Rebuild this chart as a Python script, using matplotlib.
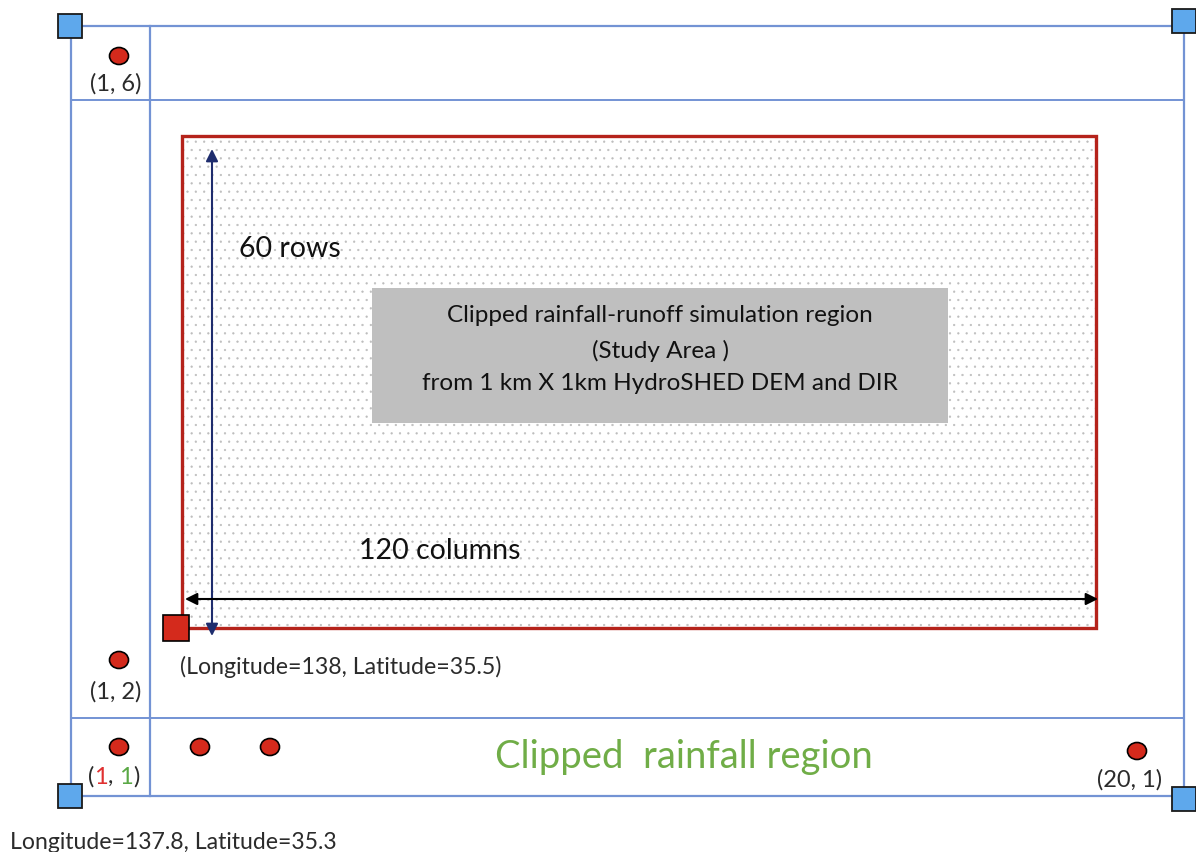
# -*- coding: utf-8 -*-
import matplotlib
matplotlib.use('Agg')
import matplotlib.pyplot as plt
from matplotlib.patches import Rectangle, Ellipse

plt.rcParams['font.family'] = ['Lato', 'DejaVu Sans']
plt.rcParams['hatch.linewidth'] = 0.4

# rejilla de la region de lluvia (coordenadas del esquema, en pixeles)
lineas_v = [71, 150, 1184]
lineas_h = [27, 101, 719, 797]
esquinas_x = [70, 1184, 70, 1184]
esquinas_y = [27, 22, 797, 800]

# puntos de celdas de lluvia
puntos_x = [119, 119, 119, 200, 270, 1137]
puntos_y = [57, 661, 748, 748, 748, 752]
etiquetas = ['(1, 6)', '(1, 2)', '(20, 1)']
etiquetas_x = [116, 116, 1130]
etiquetas_y = [84, 692, 780]

# area de estudio
area = [182, 137, 1096, 629]          # x0, y0, x1, y1
caja_gris = [372, 289, 948, 424]
texto_caja = ['Clipped rainfall-runoff simulation region',
              '(Study Area )',
              'from 1 km X 1km HydroSHED DEM and DIR']

AZUL = '#7393d4'
ROJO = '#d42a1c'

fig = plt.figure(figsize=(11.96, 8.53), dpi=100)
ax = fig.add_axes([0, 0, 1, 1])
ax.set_xlim(0, 1196)
ax.set_ylim(853, 0)
ax.axis('off')

# 1. lineas azules
ax.plot([lineas_v[0], lineas_v[-1]], [lineas_h[0], lineas_h[0]], color=AZUL, lw=1.6)
ax.plot([lineas_v[0], lineas_v[-1]], [lineas_h[-1], lineas_h[-1]], color=AZUL, lw=1.6)
for y in lineas_h[1:-1]:
    ax.plot([lineas_v[0], lineas_v[-1]], [y, y], color=AZUL, lw=1.4)
for x in lineas_v:
    ax.plot([x, x], [lineas_h[0], lineas_h[-1]], color=AZUL, lw=1.6)

# 2. area de estudio con puntitos
x0, y0, x1, y1 = area
ax.add_patch(Rectangle((x0, y0), x1 - x0, y1 - y0, facecolor='white',
                       edgecolor='#bdbdbd', lw=0, hatch='..', zorder=2))
ax.add_patch(Rectangle((x0, y0), x1 - x0, y1 - y0, facecolor='none',
                       edgecolor='#b5231b', lw=2.4, zorder=3))

gx0, gy0, gx1, gy1 = caja_gris
ax.add_patch(Rectangle((gx0, gy0), gx1 - gx0, gy1 - gy0, facecolor='#bfbfbf',
                       edgecolor='none', zorder=4))
for y, t in zip([315, 351, 383], texto_caja):
    ax.text((gx0 + gx1) / 2, y, t, ha='center', va='center', fontsize=17.5,
            color='#111111', zorder=5)

# 3. flechas
ax.annotate('', xy=(212, 150), xytext=(212, 637),
            arrowprops=dict(arrowstyle='<|-|>', color='#1f2d6e', lw=1.5,
                            mutation_scale=18, shrinkA=0, shrinkB=0), zorder=6)
ax.annotate('', xy=(1098, 600), xytext=(185, 600),
            arrowprops=dict(arrowstyle='<|-|>', color='black', lw=1.5,
                            mutation_scale=18, shrinkA=0, shrinkB=0), zorder=6)
ax.text(239, 249, '60 rows', fontsize=20.5, va='center', ha='left', color='#111111', zorder=6)
ax.text(359, 551, '120 columns', fontsize=20.5, va='center', ha='left', color='#111111', zorder=6)

# 4. cuadrados y puntos
ax.add_patch(Rectangle((176 - 13, 629 - 13), 26, 26, facecolor=ROJO,
                       edgecolor='black', lw=1.2, zorder=7))
for x, y in zip(esquinas_x, esquinas_y):
    ax.add_patch(Rectangle((x - 12, y - 12), 24, 24, facecolor='#5ea8ec',
                           edgecolor='#1a1a1a', lw=1.3, zorder=7))
for x, y in zip(puntos_x, puntos_y):
    ax.add_patch(Ellipse((x, y), 19, 17, facecolor=ROJO, edgecolor='black',
                         lw=1.2, zorder=7))

for x, y, t in zip(etiquetas_x, etiquetas_y, etiquetas):
    ax.text(x, y, t, ha='center', va='center', fontsize=17, color='#2b2b2b')

# (1, 1) con colores
partes = ['(', '1', ', ', '1', ')']
colores = ['#2b2b2b', '#e03030', '#2b2b2b', '#5aa845', '#2b2b2b']
t = ax.text(88, 777, partes[0], ha='left', va='center', fontsize=17, color=colores[0])
for p, c in zip(partes[1:], colores[1:]):
    t = ax.annotate(p, xy=(1, 0), xycoords=t, ha='left', va='bottom',
                    fontsize=17, color=c)

ax.text(180, 667, '(Longitude=138, Latitude=35.5)', ha='left', va='center',
        fontsize=16.7, color='#2b2b2b')
ax.text(684, 757, 'Clipped  rainfall region', ha='center', va='center',
        fontsize=27.5, color='#70ad47')
ax.text(10, 843, 'Longitude=137.8, Latitude=35.3', ha='left', va='center',
        fontsize=16.6, color='#2b2b2b')

plt.savefig('out.png', dpi=100)
